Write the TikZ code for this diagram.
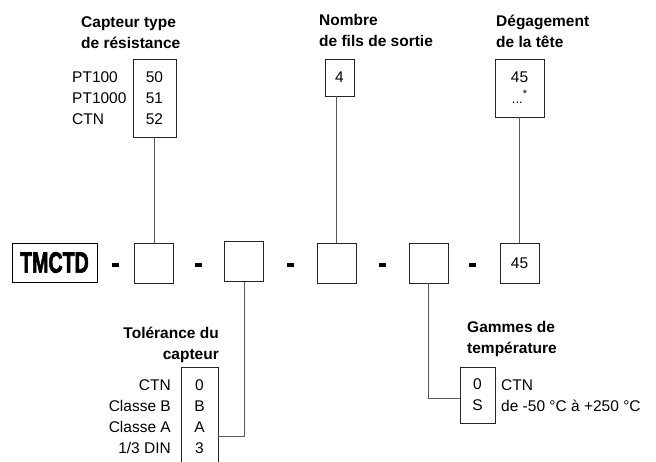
\documentclass[tikz,border=0pt]{standalone}
\usepackage{fontspec}
\setmainfont{Liberation Sans}
\newfontfamily\heavyfont{Liberation Sans}[BoldFeatures={FakeBold=2.5}]
\begin{document}
\begin{tikzpicture}[x=1pt,y=-1pt,
  box/.style={draw=black!85, line width=0.8pt, inner sep=0pt},
  sq/.style={box, minimum width=39pt, minimum height=40pt},
  dashbar/.style={fill=black, inner sep=0pt, minimum width=7pt, minimum height=4pt},
  conn/.style={draw=black!65, line width=0.9pt},
  lbl/.style={font=\fontsize{15.5}{21}\selectfont, inner sep=0pt},
  ttl/.style={font=\fontsize{15.5}{21}\selectfont\bfseries, inner sep=0pt},
  val/.style={box, font=\fontsize{15.5}{21}\selectfont, align=center}]
\useasboundingbox (0,0) rectangle (656,461);
\clip (0,0) rectangle (656,461);
% main row
\node[box, draw=black, minimum width=85pt, minimum height=39pt] (tm) at (54.5,262.5)
  {\scalebox{0.7}[1.05]{\heavyfont\bfseries\fontsize{28}{28}\selectfont TMCTD}};
\node[dashbar] (d1) at (115,265) {};
\node[sq] (s1) at (153.5,263) {};
\node[dashbar] (d2) at (198.5,265) {};
\node[sq] (s2) at (244,261.5) {};
\node[dashbar] (d3) at (290,265) {};
\node[sq] (s3) at (336.5,263) {};
\node[dashbar] (d4) at (382,265) {};
\node[sq] (s4) at (428.5,263) {};
\node[dashbar] (d5) at (472.5,265) {};
\node[sq, font=\fontsize{15.5}{21}\selectfont] (s5) at (519.5,263.5) {45};
% top boxes
\node[ttl, align=left, anchor=north west] (t1) at (81,16) {Capteur type\\de résistance};
\node[lbl, align=left, anchor=north west] (l1) at (72,71.5) {PT100\\PT1000\\CTN};
\node[val, minimum width=43pt, minimum height=78pt] (b1) at (154.5,98) {50\\51\\52};
\node[ttl, align=left, anchor=north west] (t3) at (319,14.5) {Nombre\\de fils de sortie};
\node[val, minimum width=29pt, minimum height=37pt] (b3) at (339.5,77.5) {4};
\node[ttl, align=left, anchor=north west] (t5) at (496,14.5) {Dégagement\\de la tête};
\node[val, minimum width=49pt, minimum height=58pt] (b5) at (519.5,88)
  {45\\{\fontsize{13}{13}\selectfont ...\raisebox{6pt}{\fontsize{11}{11}\selectfont *}}};
% bottom boxes
\node[ttl, align=right, anchor=north east] (t2) at (219,326.5) {Tolérance du\\capteur};
\node[lbl, align=right, anchor=north east] (l2) at (171,379.5) {CTN\\Classe B\\Classe A\\1/3 DIN};
\node[val, minimum width=37pt, minimum height=99pt] (b2) at (199.5,416.5) {0\\B\\A\\3};
\node[ttl, align=left, anchor=north west] (t4) at (467,321.5) {Gammes de\\température};
\node[val, minimum width=35pt, minimum height=56pt] (b4) at (477.5,395) {0\\S};
\node[lbl, align=left, anchor=north west] (l4) at (501,379.5) {CTN\\de -50 °C à +250 °C};
% connectors
\draw[conn] (b1.south) -- (b1.south |- s1.north);
\draw[conn] (s3.north |- b3.south) -- (s3.north);
\draw[conn] (s5.north |- b5.south) -- (s5.north);
\draw[conn] (s2.south) |- ([yshift=-19.5pt]b2.east);
\draw[conn] (s4.south) |- ([yshift=-3pt]b4.west);
\end{tikzpicture}
\end{document}
